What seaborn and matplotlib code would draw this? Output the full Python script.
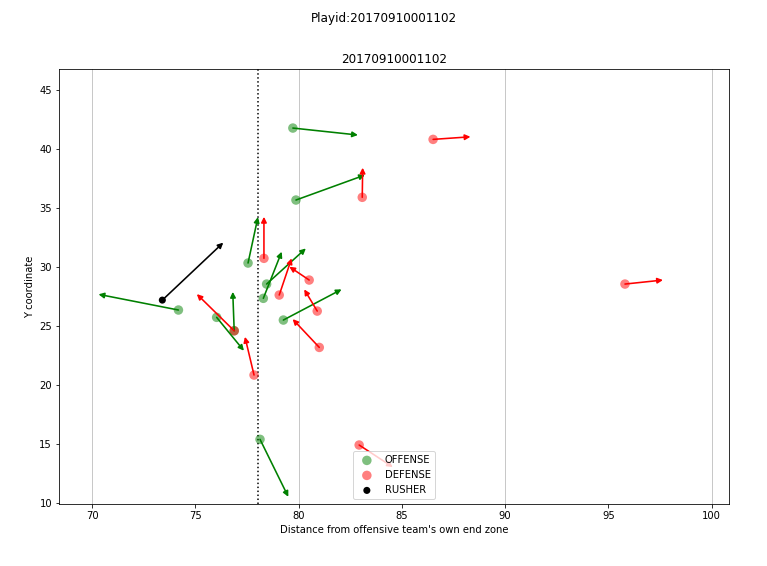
import matplotlib
matplotlib.use("Agg")
import matplotlib.pyplot as plt
import seaborn as sns
import pandas as pd

play_id = "20170910001102"
scrimmage_x = 78.03

# Offense players: position and velocity-arrow end
off_x = [79.72, 79.87, 77.55, 78.45, 78.29, 79.26, 74.18, 76.03, 76.88, 78.13]
off_y = [41.78, 35.68, 30.34, 28.56, 27.35, 25.51, 26.36, 25.74, 24.60, 15.40]
off_ex = [82.87, 83.21, 78.03, 80.35, 79.18, 82.08, 70.31, 77.35, 76.81, 79.50]
off_ey = [41.19, 37.80, 34.24, 31.58, 31.30, 28.11, 27.69, 22.91, 27.90, 10.53]

# Defense players
def_x = [86.51, 95.80, 83.08, 78.32, 79.06, 80.51, 80.90, 81.00, 76.88, 77.84, 82.93]
def_y = [40.82, 28.56, 35.91, 30.74, 27.63, 28.90, 26.27, 23.19, 24.60, 20.85, 14.92]
def_ex = [88.32, 97.64, 83.10, 78.32, 79.66, 79.55, 80.27, 79.71, 75.07, 77.40, 84.56]
def_ey = [41.04, 28.90, 38.42, 34.26, 30.74, 30.03, 28.11, 25.59, 27.71, 24.09, 13.05]

# Rusher
rush_x = [73.40]
rush_y = [27.20]
rush_ex = [76.35]
rush_ey = [32.07]

DPI = 72
fig = plt.figure(figsize=(767 / DPI, 566 / DPI), dpi=DPI)
ax = fig.add_axes([0.077, 0.1095, 0.873, 0.7685])

for xv in [70, 80, 90, 100]:
    ax.axvline(xv, color="#c8c8c8", lw=1, zorder=0)
ax.axvline(scrimmage_x, color="black", ls=":", lw=1.5, zorder=1)

def draw_arrows(xs, ys, exs, eys, color):
    for x0, y0, x1, y1 in zip(xs, ys, exs, eys):
        ax.annotate("", xy=(x1, y1), xytext=(x0, y0),
                    arrowprops=dict(arrowstyle="-|>", color=color, lw=1.6,
                                    mutation_scale=11, shrinkA=0, shrinkB=0),
                    zorder=3)

draw_arrows(off_x, off_y, off_ex, off_ey, "green")
draw_arrows(def_x, def_y, def_ex, def_ey, "red")
draw_arrows(rush_x, rush_y, rush_ex, rush_ey, "black")

df_off = pd.DataFrame({"x": off_x, "y": off_y})
df_def = pd.DataFrame({"x": def_x, "y": def_y})
df_rush = pd.DataFrame({"x": rush_x, "y": rush_y})
sns.scatterplot(data=df_off, x="x", y="y", color="green", alpha=0.5, s=90,
                edgecolor="none", label="OFFENSE", ax=ax, zorder=2)
sns.scatterplot(data=df_def, x="x", y="y", color="red", alpha=0.5, s=90,
                edgecolor="none", label="DEFENSE", ax=ax, zorder=2)
sns.scatterplot(data=df_rush, x="x", y="y", color="black", s=50,
                edgecolor="none", label="RUSHER", ax=ax, zorder=4)

ax.set_xlim(68.40, 100.82)
ax.set_ylim(9.92, 46.78)
ax.set_xticks([70, 75, 80, 85, 90, 95, 100])
ax.set_yticks([10, 15, 20, 25, 30, 35, 40, 45])
ax.set_xlabel("Distance from offensive team's own end zone")
ax.set_ylabel("Y coordinate")
ax.set_title(play_id)
fig.suptitle("Playid:" + play_id, y=0.978)
ax.legend(loc="lower center")

fig.savefig("out.png", dpi=DPI)
